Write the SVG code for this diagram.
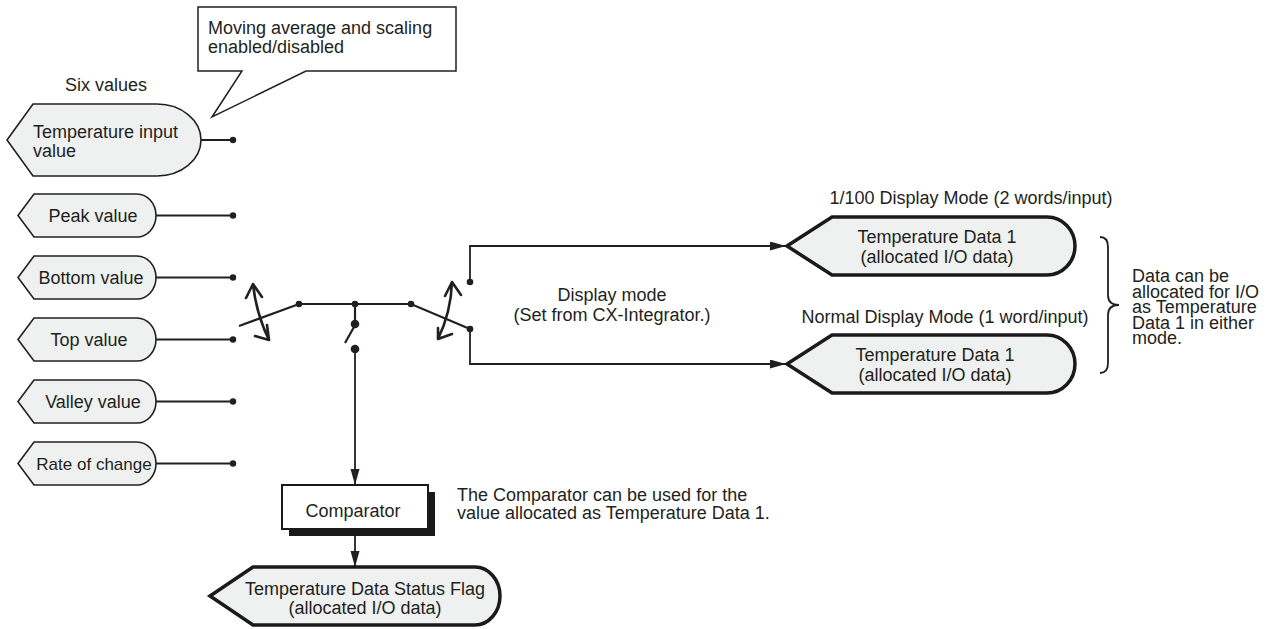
<svg xmlns="http://www.w3.org/2000/svg" width="1271" height="629" viewBox="0 0 1271 629">
<style>
text{font-family:"Liberation Sans",Arial,sans-serif;font-size:18px;fill:#231f20}
.mid{text-anchor:middle}
.node{fill:#eff1f0;stroke:#231f20;stroke-width:1.6}
.thick{fill:#eff1f0;stroke:#1a1a1a;stroke-width:3.5}
.ln{fill:none;stroke:#231f20;stroke-width:1.8}
.sw{fill:none;stroke:#231f20;stroke-width:2.2}
.cv{fill:none;stroke:#231f20;stroke-width:2.6;stroke-linecap:round;stroke-linejoin:round}
.dot{fill:#231f20}
</style>
<defs>
<marker id="arr" markerUnits="userSpaceOnUse" markerWidth="18" markerHeight="10" refX="16" refY="4.5" orient="auto">
<path d="M0,0 L16,4.5 L0,9 Z" fill="#231f20"/>
</marker>
</defs>

<g id="callout">
<path d="M198,7 H456 V71 H306 L212,117 L242,71 H198 Z" fill="#fff" stroke="#231f20" stroke-width="1.5"/>
<text x="208" y="34">Moving average and scaling</text>
<text x="208" y="53">enabled/disabled</text>
</g>

<text id="six-values" x="106" y="91" class="mid">Six values</text>

<g id="temp-input">
<path class="node" d="M7,140 L33,104 L157,104 A44,36 0 0 1 157,176 L33,176 Z"/>
<text x="33" y="138">Temperature input</text>
<text x="33" y="157">value</text>
</g>
<g id="peak">
<path class="node" d="M18,215.5 L34,194 L137,194 A19,21.5 0 0 1 137,237 L34,237 Z"/>
<text x="93" y="222" class="mid">Peak value</text>
</g>
<g id="bottom">
<path class="node" d="M18,277.5 L34,256 L137,256 A19,21.5 0 0 1 137,299 L34,299 Z"/>
<text x="91" y="284" class="mid">Bottom value</text>
</g>
<g id="top">
<path class="node" d="M18,339.5 L34,318 L137,318 A19,21.5 0 0 1 137,361 L34,361 Z"/>
<text x="89" y="346" class="mid">Top value</text>
</g>
<g id="valley">
<path class="node" d="M18,401.5 L34,380 L137,380 A19,21.5 0 0 1 137,423 L34,423 Z"/>
<text x="93" y="408" class="mid">Valley value</text>
</g>
<g id="rate">
<path class="node" d="M18,463.5 L34,442 L137,442 A19,21.5 0 0 1 137,485 L34,485 Z"/>
<text x="94" y="469.5" class="mid" style="font-size:17px">Rate of change</text>
</g>

<g id="connectors">
<path class="ln" d="M201,140 H233 M156,215.5 H233 M156,277.5 H233 M156,339.5 H233 M156,401.5 H233 M156,463.5 H233"/>
<circle class="dot" cx="233" cy="140" r="3.2"/>
<circle class="dot" cx="233" cy="215.5" r="3.2"/>
<circle class="dot" cx="233" cy="277.5" r="3.2"/>
<circle class="dot" cx="233" cy="339.5" r="3.2"/>
<circle class="dot" cx="233" cy="401.5" r="3.2"/>
<circle class="dot" cx="233" cy="463.5" r="3.2"/>
<path class="sw" d="M239,326 L299,304 H411 L470,329"/>
<path class="sw" d="M355,304 V324 M345,343 L354,327"/>
<circle class="dot" cx="299" cy="304" r="3.3"/>
<circle class="dot" cx="355" cy="304" r="3.3"/>
<circle class="dot" cx="411" cy="304" r="3.3"/>
<circle class="dot" cx="355" cy="324" r="4.3"/>
<circle class="dot" cx="355" cy="349" r="4.3"/>
<path class="ln" d="M355,349 V485" marker-end="url(#arr)"/>
<path class="ln" d="M470,282 V246 H786" marker-end="url(#arr)"/>
<path class="ln" d="M470,329 V364 H786" marker-end="url(#arr)"/>
<circle class="dot" cx="470" cy="282" r="3.3"/>
<circle class="dot" cx="470" cy="329" r="3.3"/>
<path class="ln" d="M355,529 V567" marker-end="url(#arr)"/>
<path class="cv" d="M253,284 Q256,313 269,340 M246,298 L253,284 L262,297 M255,336 L269,340 L267,325"/>
<path class="cv" d="M452,282 Q451,312 438,339 M445,296 L452,282 L461,295 M438,328 L438,339 L452,334"/>
</g>

<g id="display-mode">
<text x="612" y="301" class="mid">Display mode</text>
<text x="612" y="321" class="mid">(Set from CX-Integrator.)</text>
</g>

<text id="label-1100" x="971" y="204" class="mid">1/100 Display Mode (2 words/input)</text>
<g id="td1-upper">
<path class="thick" d="M787,246 L832,217 L1047,217 A28,29 0 0 1 1047,275 L832,275 Z"/>
<text x="937" y="243" class="mid">Temperature Data 1</text>
<text x="937" y="263" class="mid">(allocated I/O data)</text>
</g>
<text id="label-normal" x="945" y="323" class="mid">Normal Display Mode (1 word/input)</text>
<g id="td1-lower">
<path class="thick" d="M787,364 L832,335 L1047,335 A28,29 0 0 1 1047,393 L832,393 Z"/>
<text x="935" y="361" class="mid">Temperature Data 1</text>
<text x="935" y="381" class="mid">(allocated I/O data)</text>
</g>

<g id="brace">
<path class="ln" d="M1100,237 Q1108,237 1108,247 L1108,295 Q1108,305 1119,305 Q1108,305 1108,315 L1108,363 Q1108,373 1100,373"/>
<text x="1132" y="282">Data can be</text>
<text x="1132" y="297.5">allocated for I/O</text>
<text x="1132" y="313">as Temperature</text>
<text x="1132" y="328.5">Data 1 in either</text>
<text x="1132" y="344">mode.</text>
</g>

<g id="comparator">
<rect x="289" y="492" width="146" height="44" fill="#1a1a1a"/>
<rect x="282" y="485" width="146" height="44" fill="#fff" stroke="#1a1a1a" stroke-width="2"/>
<text x="353" y="516.5" class="mid">Comparator</text>
</g>
<g id="comparator-note">
<text x="457" y="501">The Comparator can be used for the</text>
<text x="457" y="519">value allocated as Temperature Data 1.</text>
</g>

<g id="status-flag">
<path class="thick" d="M210,596 L253,567 L475,567 A25,29 0 0 1 475,625 L253,625 Z"/>
<text x="365" y="595" class="mid">Temperature Data Status Flag</text>
<text x="365" y="614" class="mid">(allocated I/O data)</text>
</g>
</svg>
